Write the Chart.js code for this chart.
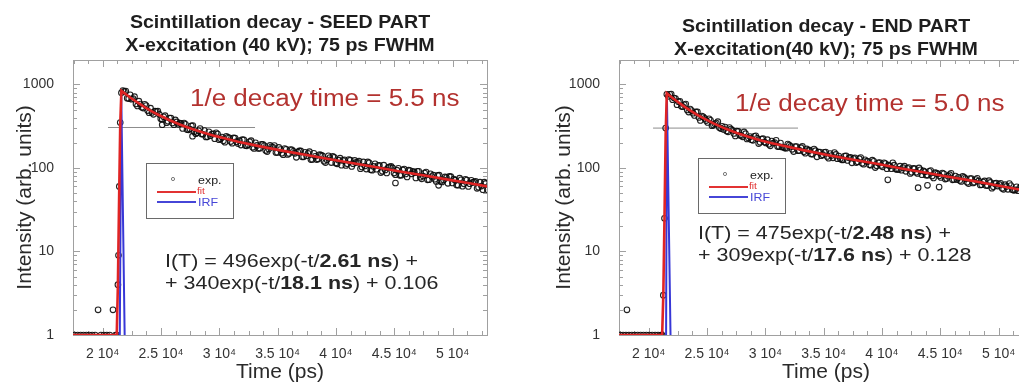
<!DOCTYPE html>
<html>
<head>
<meta charset="utf-8">
<script src="https://cdn.jsdelivr.net/npm/chart.js@4.4.1/dist/chart.umd.min.js"></script>
<style>
  html, body { margin: 0; padding: 0; background: #fff; overflow: hidden; }
  #wrap { position: relative; width: 1019px; height: 385px; overflow: hidden; }
  canvas { position: absolute; top: 0; }
</style>
</head>
<body>
<div id="wrap">
  <canvas id="seed" width="510" height="385" style="left:0"></canvas>
  <canvas id="end" width="510" height="385" style="left:546px"></canvas>
</div>
<script>
const FONT = '"Liberation Sans", Arial, Helvetica, sans-serif';

// axes
const xTickValues = [20000, 25000, 30000, 35000, 40000, 45000, 50000];
const xTickLabels = ['2 10⁴', '2.5 10⁴', '3 10⁴', '3.5 10⁴', '4 10⁴', '4.5 10⁴', '5 10⁴'];
const yTickValues = [1, 10, 100, 1000];
const yTickLabels = ['1', '10', '100', '1000'];
const channelStep = 250; // ps between exp. channels of one array

// SEED PART
const seedLowT = [17600, 17850, 18100, 18350, 18600, 18850, 19100, 19350, 19600, 19850, 20100, 20350, 20600, 20880, 21100, 21200, 21300, 21350, 21420, 21500];
const seedLowV = [1, 1, 1, 1, 1, 1, 1, 1, 2, 1, 1, 1, 1, 2, 1, 1, 4, 9, 60, 350];
const seedDecayStart = 21600;
const seedDecayV = [794, 824, 684, 752, 676, 583, 630, 534, 577, 486, 520, 439, 477, 439, 382, 422, 362, 396, 330, 356,
  345, 297, 333, 286, 318, 272, 263, 296, 253, 235, 271, 255, 224, 255, 224, 211, 239, 230, 198, 228,
  196, 188, 217, 184, 206, 177, 200, 171, 192, 185, 157, 186, 177, 153, 176, 150, 171, 145, 166, 158,
  134, 160, 136, 154, 150, 126, 150, 126, 144, 140, 116, 140, 116, 134, 112, 131, 123, 107, 126, 104,
  123, 117, 98, 118, 97, 115, 94, 112, 107, 88, 108, 87, 103, 100, 83, 99, 82, 97, 78, 93,
  91, 76, 91, 74, 87, 72, 85, 82, 69, 82, 68, 78, 65.5, 78.5, 73.5, 62.5, 75.5, 60.5, 73, 60,
  71, 68, 57, 67.5, 55, 65.5];
const seedDecayStart2 = 21725;
const seedDecayV2 = [843, 832, 676, 665, 713, 553, 583, 521, 559, 458, 461, 478, 480, 389, 410, 348, 395, 346, 376, 333,
  339, 344, 288, 292, 322, 257, 278, 255, 280, 236, 243, 256, 263, 218, 234, 203, 233, 207, 229, 206,
  212, 218, 185, 190, 212, 171, 186, 172, 191, 162, 168, 179, 185, 153, 166, 144, 167, 149, 165, 149.5,
  155, 160, 136, 140, 156.5, 126.5, 138, 128, 142, 120.5, 125, 133, 137.5, 114.7, 124, 108, 125, 112, 124, 112.5,
  116.7, 120.5, 102.6, 105.5, 117.9, 95.3, 104.2, 96.6, 107.3, 91, 94.6, 100.9, 104.3, 86.9, 93.9, 81.6, 94.8, 84.8, 94.1, 85.1,
  88.3, 91.2, 77.6, 79.9, 89.2, 72.2, 79, 73.2, 81.4, 69, 71.8, 76.7, 79.2, 66, 71.4, 62.1, 72.2, 64.5, 71.6, 64.7,
  67.1, 69.3, 58.9, 60.6, 67.6, 54.7];
const seedOutT = [25100, 27700, 45100, 48800];
const seedOutV = [330, 240, 66, 62];
const seedFitT = [17450, 21200, 21300, 21400, 21500, 21600, 21850, 22100, 22350, 22600, 23100, 23600, 24100, 24600, 25600, 26600,
  27600, 28600, 29600, 30600, 31600, 33600, 35600, 37600, 39600, 41600, 43600, 45600, 47600, 49600, 51600, 53000];
const seedFitV = [1, 1, 4, 40, 330, 836, 786, 740, 698, 660, 592, 535, 486, 445, 380, 331,
  294, 265, 242, 223, 206, 180, 159, 142, 126, 113, 101, 90, 81, 72.5, 65, 60];
const seedIrfT = [21450, 21590, 21910];
const seedIrfV = [0.5, 740, 0.5];
const seedHalfT = [20450, 33060];
const seedHalfV = [305, 305];

// END PART
const endLowT = [17550, 17800, 18050, 18130, 18300, 18550, 18800, 19050, 19300, 19550, 19800, 20050, 20300, 20550, 20800, 21050, 21150, 21250, 21350, 21450];
const endLowV = [1, 1, 1, 2, 1, 1, 1, 1, 1, 1, 1, 1, 1, 1, 1, 1, 1, 3, 25, 300];
const endDecayStart = 21550;
const endDecayV = [762, 760, 655, 676, 621, 547, 570, 495, 508, 452, 468, 403, 418, 392, 351, 372, 327, 345, 304, 315,
  309, 271, 292, 259, 276, 247, 236, 257, 229, 218, 239, 226, 203, 224, 199, 192, 210, 201, 180, 199,
  177, 172, 188, 167, 180, 161, 175, 156, 169, 163, 146, 161, 155, 140, 154, 137, 149, 132, 145, 139,
  125, 139, 123, 134, 130, 116, 129, 114, 125, 120, 108, 120, 106, 116, 103, 113, 108, 98, 108, 96,
  105, 101, 91, 101, 89, 98, 86, 95, 92, 82, 91, 80, 88, 85, 77, 85, 75, 83, 72, 80,
  77, 69, 77, 67.5, 74.5, 66, 72.5, 70, 63, 70, 61.5, 67, 59.5, 66, 63.5, 57, 63, 55.5, 61.5, 54,
  59.5, 57.5, 51.5, 57, 50, 55.5];
const endDecayStart2 = 21675;
const endDecayV2 = [721, 768, 688, 571, 628, 542, 581, 466, 486, 425, 470, 370, 409, 369, 387, 320, 338, 358, 296, 289,
  277, 305, 282, 242, 274, 244, 270, 222, 238, 214, 243, 196, 222, 204, 218, 184, 198, 214, 180, 178,
  173, 193, 181, 157, 180, 162, 181, 150, 162, 147, 168, 136, 155, 144, 155, 131, 141, 153, 129, 129,
  125, 140, 132, 115, 132, 119, 133, 111, 120, 109, 124, 101, 115, 107, 115, 98, 106, 115, 97, 96,
  94, 105, 99, 86, 99, 89, 100, 83, 90, 82, 93, 76, 87, 80.5, 86.7, 73.5, 79.6, 86.2, 72.7, 72.5,
  70.7, 79.2, 74.5, 64.9, 74.5, 67.2, 75.2, 62.7, 67.8, 61.6, 70.4, 57.3, 65.3, 60.7, 65.4, 55.4, 60, 64.9, 54.8, 54.6,
  53.3, 59.7, 56.1, 49, 56.2, 50.7];
const endOutT = [40500, 43100, 43900, 44900];
const endOutV = [72, 58, 62, 59];
const endFitT = [17450, 21150, 21250, 21350, 21450, 21550, 21800, 22050, 22300, 22550, 23050, 23550, 24050, 24550, 25550, 26550,
  27550, 28550, 29550, 30550, 31550, 33550, 35550, 37550, 39550, 41550, 43550, 45550, 47550, 49550, 51550, 52950];
const endFitV = [1, 1, 3, 25, 250, 784, 734, 689, 647, 609, 543, 488, 441, 402, 341, 296,
  262, 236, 215, 198, 184, 160, 141, 125, 112, 99, 89, 79, 71, 63, 56, 52];
const endIrfT = [21480, 21560, 21900];
const endIrfV = [0.5, 700, 0.5];
const endHalfT = [20370, 32800];
const endHalfV = [300, 300];

function pts(t, v) {
  return t.map((x, i) => ({ x, y: v[i] }));
}
function channelPts(t0, v) {
  return v.map((y, i) => ({ x: t0 + i * channelStep, y }));
}

// text slightly stretched sideways like the scanned figure
function stretchText(ctx, s, x, y, align, sx) {
  ctx.save();
  ctx.translate(x, y);
  ctx.scale(sx, 1);
  ctx.textAlign = align;
  ctx.fillText(s, 0, 0);
  ctx.restore();
  return ctx.measureText(s).width * sx;
}

const decor = {
  id: 'decor',
  beforeDatasetsDraw(chart, args, o) {
    const { ctx, chartArea: a, scales: { x, y } } = chart;
    ctx.save();
    ctx.strokeStyle = '#a0a0a0';
    ctx.lineWidth = 1;
    ctx.strokeRect(a.left + 0.5, a.top + 0.5, a.width, a.height);
    ctx.beginPath();
    for (let v = 17500; v <= x.max; v += 1250) {
      const px = Math.round(x.getPixelForValue(v)) + 0.5;
      const len = v % 5000 === 0 ? 7 : 4;
      ctx.moveTo(px, a.bottom); ctx.lineTo(px, a.bottom - len);
      ctx.moveTo(px, a.top); ctx.lineTo(px, a.top + len);
    }
    for (let d = 1; d <= 1000; d *= 10) {
      for (let k = 1; k <= 9; k++) {
        const v = k * d;
        if (v > y.max) break;
        const py = Math.round(y.getPixelForValue(v)) + 0.5;
        const len = k === 1 ? 7 : 4;
        ctx.moveTo(a.left, py); ctx.lineTo(a.left + len, py);
        ctx.moveTo(a.right, py); ctx.lineTo(a.right - len, py);
      }
    }
    ctx.stroke();
    ctx.restore();
  },
  afterDatasetsDraw(chart, args, o) {
    const { ctx, chartArea: a } = chart;
    ctx.save();
    ctx.textBaseline = 'middle';

    // title
    ctx.fillStyle = '#1e1e1e';
    ctx.font = `bold 17.5px ${FONT}`;
    const cx = (a.left + a.right) / 2;
    o.title.forEach((s, i) => stretchText(ctx, s, cx, o.titleY + i * 23, 'center', 1.12));

    // 1/e decay time
    ctx.fillStyle = '#b3322f';
    ctx.font = `23px ${FONT}`;
    stretchText(ctx, o.decay.text, o.decay.x, o.decay.y, 'left', 1.13);

    // fit formula
    ctx.fillStyle = '#262626';
    o.formula.lines.forEach((line, i) => {
      let px = o.formula.x;
      line.forEach(([s, bold]) => {
        ctx.font = `${bold ? 'bold ' : ''}19px ${FONT}`;
        px += stretchText(ctx, s, px, o.formula.y + i * 22, 'left', 1.13);
      });
    });

    // legend box
    const L = o.legend;
    ctx.fillStyle = '#fff';
    ctx.fillRect(L.x, L.y, 87, 55);
    ctx.strokeStyle = '#6a6a6a';
    ctx.lineWidth = 1;
    ctx.strokeRect(L.x + 0.5, L.y + 0.5, 87, 55);
    ctx.strokeStyle = 'rgba(90,90,90,0.8)';
    ctx.beginPath();
    ctx.arc(L.x + 27, L.y + 16, 1.6, 0, Math.PI * 2);
    ctx.stroke();
    ctx.lineWidth = 2;
    ctx.strokeStyle = 'rgb(226,50,50)';
    ctx.beginPath(); ctx.moveTo(L.x + 11, L.y + 29); ctx.lineTo(L.x + 50, L.y + 29); ctx.stroke();
    ctx.strokeStyle = 'rgb(70,70,215)';
    ctx.beginPath(); ctx.moveTo(L.x + 11, L.y + 39); ctx.lineTo(L.x + 50, L.y + 39); ctx.stroke();
    ctx.font = `11px ${FONT}`;
    ctx.fillStyle = '#222';
    stretchText(ctx, 'exp.', L.x + 52, L.y + 18, 'left', 1.13);
    ctx.fillStyle = 'rgb(226,50,50)';
    ctx.font = `9px ${FONT}`;
    stretchText(ctx, 'fit', L.x + 51, L.y + 29, 'left', 1.13);
    ctx.fillStyle = 'rgb(70,70,215)';
    ctx.font = `11px ${FONT}`;
    stretchText(ctx, 'IRF', L.x + 52, L.y + 40, 'left', 1.13);
    ctx.restore();
  }
};

function makeChart(id, d) {
  const expData = pts(d.lowT, d.lowV).concat(
    channelPts(d.decayStart, d.decayV),
    channelPts(d.decayStart2, d.decayV2),
    pts(d.outT, d.outV)
  );
  return new Chart(document.getElementById(id), {
    type: 'scatter',
    data: {
      datasets: [
        { label: 'fit', data: pts(d.fitT, d.fitV), showLine: true, borderColor: 'rgb(224,36,36)', borderWidth: 2.6, pointRadius: 0, order: 0 },
        { label: 'IRF', data: pts(d.irfT, d.irfV), showLine: true, borderColor: 'rgb(55,55,215)', borderWidth: 2, pointRadius: 0, order: 1 },
        { label: 'exp.', data: expData, showLine: false, pointRadius: 2.8, pointBorderWidth: 1.1,
          borderColor: 'rgba(10,10,10,0.9)', backgroundColor: 'rgba(0,0,0,0)', order: 2 },
        { label: '1/e', data: pts(d.halfT, d.halfV), showLine: true, borderColor: '#8c8c8c', borderWidth: 1, pointRadius: 0, order: 3 }
      ]
    },
    options: {
      responsive: false,
      devicePixelRatio: 1,
      animation: false,
      layout: { padding: { left: 0, right: 23, top: 60, bottom: 0 } },
      scales: {
        x: {
          type: 'linear',
          min: 17450,
          max: 52950,
          grid: { display: false },
          border: { display: false },
          afterFit: (s) => { s.height = 50; },
          afterBuildTicks: (s) => { s.ticks = xTickValues.map(v => ({ value: v })); },
          ticks: {
            autoSkip: false,
            maxRotation: 0,
            padding: 3,
            color: '#333',
            font: { family: FONT, size: 14 },
            callback: (v) => xTickLabels[xTickValues.indexOf(v)] ?? ''
          },
          title: { display: true, text: 'Time (ps)', color: '#2a2a2a', font: { family: FONT, size: 21 }, padding: { top: 0, bottom: 0 } }
        },
        y: {
          type: 'logarithmic',
          min: 1,
          max: 1960,
          grid: { display: false },
          border: { display: false },
          afterFit: (s) => { s.width = 73; },
          afterBuildTicks: (s) => { s.ticks = yTickValues.map(v => ({ value: v })); },
          ticks: {
            autoSkip: false,
            padding: 11,
            color: '#333',
            font: { family: FONT, size: 14 },
            callback: (v) => yTickLabels[yTickValues.indexOf(v)] ?? ''
          },
          title: { display: true, text: 'Intensity (arb. units)', color: '#2a2a2a', font: { family: FONT, size: 21 }, padding: { top: d.yTitlePad, bottom: 0 } }
        }
      },
      plugins: {
        legend: { display: false },
        tooltip: { enabled: false },
        decor: d.decor
      }
    },
    plugins: [decor]
  });
}

makeChart('seed', {
  lowT: seedLowT, lowV: seedLowV,
  decayStart: seedDecayStart, decayV: seedDecayV, decayStart2: seedDecayStart2, decayV2: seedDecayV2,
  outT: seedOutT, outV: seedOutV,
  fitT: seedFitT, fitV: seedFitV, irfT: seedIrfT, irfV: seedIrfV, halfT: seedHalfT, halfV: seedHalfV,
  yTitlePad: 13,
  decor: {
    title: ['Scintillation decay - SEED PART', 'X-excitation (40 kV); 75 ps FWHM'],
    titleY: 23,
    decay: { text: '1/e decay time = 5.5 ns', x: 190, y: 100 },
    formula: {
      x: 165, y: 262,
      lines: [
        [['I(T) = 496exp(-t/', false], ['2.61 ns', true], [') +', false]],
        [['+ 340exp(-t/', false], ['18.1 ns', true], [') + 0.106', false]]
      ]
    },
    legend: { x: 146, y: 163 }
  }
});

makeChart('end', {
  lowT: endLowT, lowV: endLowV,
  decayStart: endDecayStart, decayV: endDecayV, decayStart2: endDecayStart2, decayV2: endDecayV2,
  outT: endOutT, outV: endOutV,
  fitT: endFitT, fitV: endFitV, irfT: endIrfT, irfV: endIrfV, halfT: endHalfT, halfV: endHalfV,
  yTitlePad: 6,
  decor: {
    title: ['Scintillation decay - END PART', 'X-excitation(40 kV); 75 ps FWHM'],
    titleY: 27,
    decay: { text: '1/e decay time = 5.0 ns', x: 189, y: 105 },
    formula: {
      x: 152, y: 234,
      lines: [
        [['I(T) = 475exp(-t/', false], ['2.48 ns', true], [') +', false]],
        [['+ 309exp(-t/', false], ['17.6 ns', true], [') + 0.128', false]]
      ]
    },
    legend: { x: 152, y: 158 }
  }
});
</script>
</body>
</html>
